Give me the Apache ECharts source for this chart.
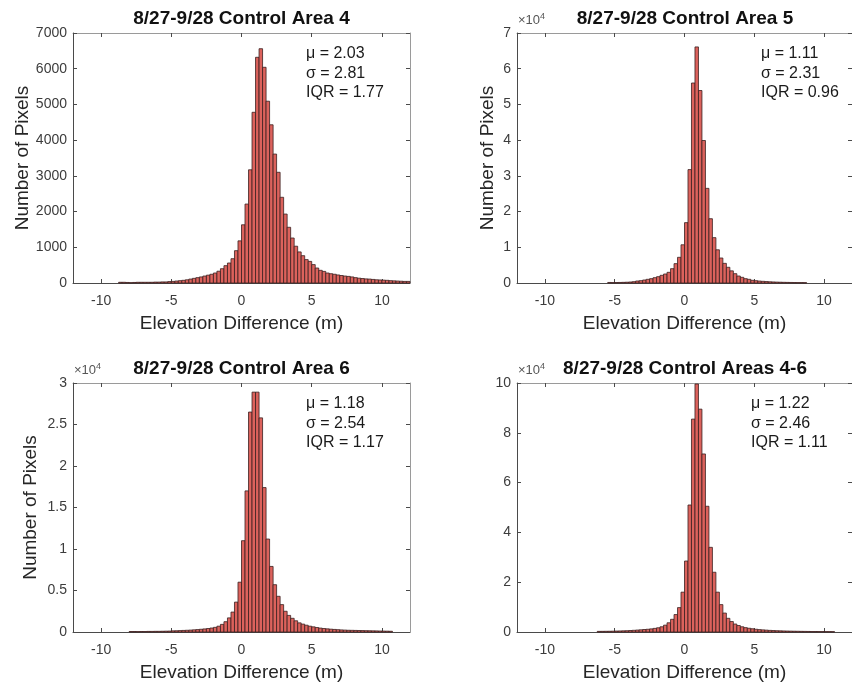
<!DOCTYPE html>
<html>
<head>
<meta charset="UTF-8">
<title>8/27-9/28 Control Areas elevation difference</title>
<script src="https://cdn.jsdelivr.net/npm/echarts@6.0.0/dist/echarts.min.js"></script>
<style>
  html, body { margin: 0; background: #fff; overflow: hidden; }
  #main { width: 852px; height: 685px; }
</style>
</head>
<body>
<div id="main"></div>
<script>
// histogram bins are 0.25 m wide, each series starts at its first left edge
const binWidth = 0.25;

const area4Start = -8.75;
const area4Counts = [
  20, 20, 15, 10, 15, 20, 20, 20, 20, 20, 25, 25, 30, 30, 40, 45, 55, 65, 75, 90,
  110, 130, 150, 170, 195, 220, 245, 280, 330, 400, 485, 560, 680, 905, 1180, 1630,
  2210, 3170, 4780, 6320, 6560, 6040, 5090, 4430, 3610, 3100, 2400, 1930, 1560, 1260,
  1030, 870, 765, 655, 605, 515, 420, 355, 325, 280, 260, 245, 225, 210, 195, 185,
  170, 150, 135, 125, 115, 110, 100, 90, 85, 80, 75, 65, 60, 55, 50, 45, 45
];

const area5Start = -5.5;
const area5Counts = [
  150, 120, 130, 150, 180, 220, 280, 370, 560, 650, 840, 1030, 1210, 1490, 1770, 2150,
  2520, 2990, 4010, 5420, 7190, 10700, 16900, 31750, 56000, 66100, 53900, 39900, 26500,
  18000, 12700, 9300, 7000, 5500, 4400, 3400, 2610, 1960, 1590, 1210, 1030, 750, 650,
  540, 470, 400, 340, 290, 250, 220, 190, 170, 150, 130, 120, 110, 100
];

const area6Start = -8.0;
const area6Counts = [
  60, 60, 50, 60, 60, 70, 70, 80, 80, 90, 100, 110, 140, 150, 170, 190, 210, 230, 260,
  290, 330, 370, 420, 480, 560, 700, 920, 1240, 1700, 2400, 3600, 6000, 11000, 17000,
  26500, 28900, 28900, 25800, 17400, 11200, 7900, 5700, 4300, 3300, 2500, 2000, 1650,
  1350, 1100, 950, 820, 700, 620, 540, 470, 420, 380, 340, 310, 280, 250, 230, 210, 200,
  190, 180, 170, 160, 150, 140, 130, 120, 110, 100, 90
];

const areasAllStart = -6.25;
const areasAllCounts = [
  250, 260, 280, 300, 330, 380, 420, 470, 520, 600, 680, 780, 880, 1000, 1100, 1250,
  1450, 1700, 2100, 2750, 3700, 5100, 7000, 9800, 16000, 28500, 51000, 85500, 99600,
  89500, 71500, 50500, 34000, 24000, 16000, 11000, 7600, 5500, 4200, 3200, 2600, 2100,
  1750, 1500, 1300, 1100, 950, 850, 750, 650, 580, 520, 470, 420, 380, 350, 320, 290,
  260, 240, 220, 200, 190, 180, 170, 160, 150, 140
];

const panelTitles = [
  '8/27-9/28 Control Area 4',
  '8/27-9/28 Control Area 5',
  '8/27-9/28 Control Area 6',
  '8/27-9/28 Control Areas 4-6'
];
const panelStats = [
  ['\u03bc = 2.03', '\u03c3 = 2.81', 'IQR = 1.77'],
  ['\u03bc = 1.11', '\u03c3 = 2.31', 'IQR = 0.96'],
  ['\u03bc = 1.18', '\u03c3 = 2.54', 'IQR = 1.17'],
  ['\u03bc = 1.22', '\u03c3 = 2.46', 'IQR = 1.11']
];
const xTicks = [-10, -5, 0, 5, 10];
const yMaxes = [7000, 70000, 30000, 100000];
const yIntervals = [1000, 10000, 5000, 20000];
const yDivisors = [1, 10000, 10000, 10000];
const xName = 'Elevation Difference (m)';
const yName = 'Number of Pixels';

const starts = [area4Start, area5Start, area6Start, areasAllStart];
const counts = [area4Counts, area5Counts, area6Counts, areasAllCounts];

const FONT = 'Arial, "Liberation Sans", Helvetica, sans-serif';
const AXIS_COLOR = '#4a4a4a';
const MIRROR_COLOR = '#9a9a9a';
const LABEL_COLOR = '#3c3c3c';

// panel boxes: [left, top, width, height]
const boxes = [
  [73, 33, 337, 250],
  [517, 33, 338, 250],
  [73, 383, 337, 249],
  [517, 383, 338, 249]
];
const yNameGaps = [37, 20, 33, null];

const chart = echarts.init(document.getElementById('main'));

function renderBin(params, api) {
  const p0 = api.coord([api.value(0), 0]);
  const p1 = api.coord([api.value(1), api.value(2)]);
  const rect = echarts.graphic.clipRectByRect(
    { x: p0[0], y: p1[1], width: p1[0] - p0[0], height: p0[1] - p1[1] },
    params.coordSys
  );
  if (!rect) return null;
  return {
    type: 'rect',
    shape: rect,
    style: { fill: '#dc625c', stroke: '#3a2020', lineWidth: 0.8 }
  };
}

const grids = [], xAxes = [], yAxes = [], series = [], graphics = [];

boxes.forEach((b, i) => {
  grids.push({ left: b[0], top: b[1], width: b[2], height: b[3], show: false });

  const tickCommon = { inside: true, length: 4, customValues: xTicks };
  xAxes.push({
    type: 'value', gridIndex: i, position: 'bottom', min: -12, max: 12,
    name: xName, nameLocation: 'middle', nameGap: 31,
    nameTextStyle: { fontFamily: FONT, fontSize: 19, color: '#262626' },
    axisLine: { show: true, onZero: false, lineStyle: { color: AXIS_COLOR, width: 1 } },
    axisTick: Object.assign({ lineStyle: { color: AXIS_COLOR } }, tickCommon),
    axisLabel: { customValues: xTicks, margin: 11, fontFamily: FONT, fontSize: 14, color: LABEL_COLOR },
    splitLine: { show: false }
  });
  xAxes.push({
    type: 'value', gridIndex: i, position: 'top', min: -12, max: 12,
    axisLine: { show: true, onZero: false, lineStyle: { color: MIRROR_COLOR, width: 1 } },
    axisTick: Object.assign({ lineStyle: { color: AXIS_COLOR } }, tickCommon),
    axisLabel: { show: false },
    splitLine: { show: false }
  });

  const div = yDivisors[i];
  yAxes.push({
    type: 'value', gridIndex: i, position: 'left', min: 0, max: yMaxes[i], interval: yIntervals[i],
    name: yNameGaps[i] === null ? '' : yName, nameLocation: 'middle', nameGap: yNameGaps[i] || 0,
    nameTextStyle: { fontFamily: FONT, fontSize: 19, color: '#262626' },
    axisLine: { show: true, onZero: false, lineStyle: { color: AXIS_COLOR, width: 1 } },
    axisTick: { inside: true, length: 4, lineStyle: { color: AXIS_COLOR } },
    axisLabel: {
      margin: 6, fontFamily: FONT, fontSize: 14, color: LABEL_COLOR,
      formatter: v => String(Math.round(v / div * 10) / 10)
    },
    splitLine: { show: false }
  });
  yAxes.push({
    type: 'value', gridIndex: i, position: 'right', min: 0, max: yMaxes[i], interval: yIntervals[i],
    axisLine: { show: true, onZero: false, lineStyle: { color: MIRROR_COLOR, width: 1 } },
    axisTick: { inside: true, length: 4, lineStyle: { color: AXIS_COLOR } },
    axisLabel: { show: false },
    splitLine: { show: false }
  });

  const data = counts[i].map((c, k) => [
    starts[i] + k * binWidth,
    starts[i] + (k + 1) * binWidth,
    c
  ]);
  series.push({
    type: 'custom',
    name: panelTitles[i],
    xAxisIndex: 2 * i,
    yAxisIndex: 2 * i,
    renderItem: renderBin,
    encode: { x: [0, 1], y: 2 },
    data: data,
    silent: true
  });

  // panel title
  graphics.push({
    type: 'text',
    x: b[0] + b[2] / 2 - (i % 2 === 1 ? 1 : 0),
    y: b[1] - 14,
    style: {
      text: panelTitles[i], font: 'bold 19px ' + FONT, fill: '#111',
      align: 'center', verticalAlign: 'middle'
    }
  });

  // statistics box
  const statX = [306, 761, 306, 751][i];
  graphics.push({
    type: 'text',
    x: statX,
    y: b[1] + 11,
    style: {
      text: panelStats[i].join('\n'), font: '16px ' + FONT, fill: '#1a1a1a',
      lineHeight: 19.5, align: 'left', verticalAlign: 'top'
    }
  });

  // exponent marker
  if (div !== 1) {
    graphics.push({
      type: 'text',
      x: b[0] + 1,
      y: b[1] - 4,
      style: {
        text: '\u00d710{s|4}',
        font: '13px ' + FONT, fill: '#555',
        align: 'left', verticalAlign: 'bottom',
        rich: { s: { fontSize: 9, verticalAlign: 'top', padding: [0, 0, 8, 0], fill: '#555' } }
      }
    });
  }
});

chart.setOption({
  backgroundColor: '#ffffff',
  animation: false,
  grid: grids,
  xAxis: xAxes,
  yAxis: yAxes,
  series: series,
  graphic: graphics
});
</script>
</body>
</html>
